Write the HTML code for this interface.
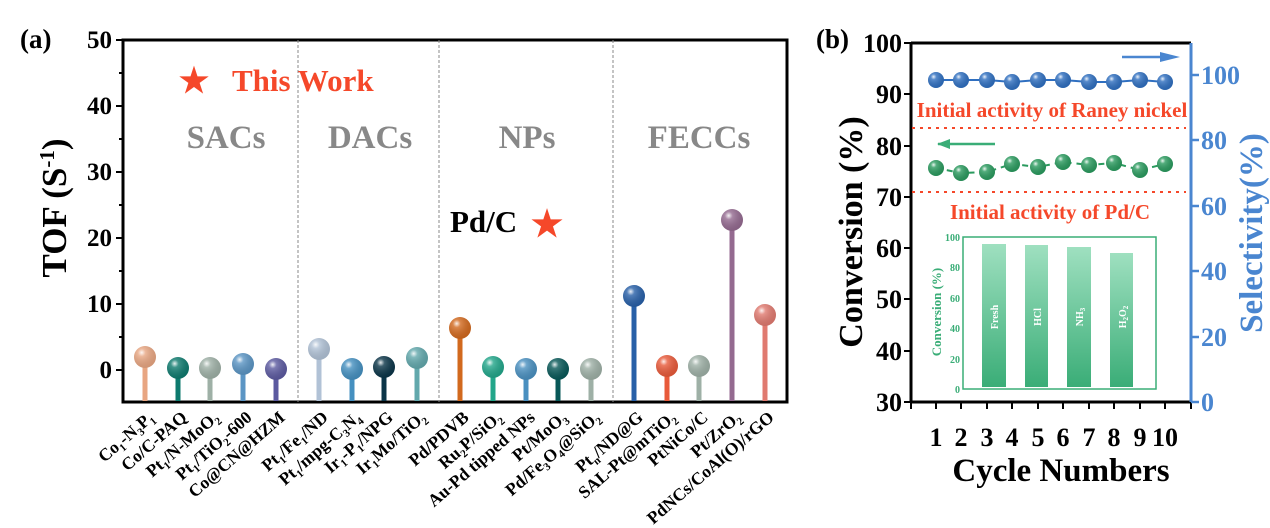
<!DOCTYPE html>
<html><head><style>body{margin:0;background:#fff}svg{display:block}text{font-family:"Liberation Serif",serif;font-weight:bold}</style></head>
<body>
<svg width="1270" height="528" viewBox="0 0 1270 528" xmlns="http://www.w3.org/2000/svg">
<defs>
<radialGradient id="sh" cx="0.35" cy="0.3" r="0.7"><stop offset="0" stop-color="#fff" stop-opacity="0.9"/><stop offset="0.25" stop-color="#fff" stop-opacity="0.2"/><stop offset="1" stop-color="#000" stop-opacity="0.1"/></radialGradient>
<linearGradient id="bar" x1="0" y1="0" x2="0" y2="1"><stop offset="0" stop-color="#9fe0c0"/><stop offset="1" stop-color="#3aad77"/></linearGradient>
</defs>
<!-- Panel a -->
<text x="20" y="48" font-size="27">(a)</text>
<rect x="123" y="40" width="664" height="362" fill="none" stroke="#000" stroke-width="3"/>
<g stroke="#888" stroke-width="1" stroke-dasharray="3,2">
<line x1="298" y1="40" x2="298" y2="402"/><line x1="439" y1="40" x2="439" y2="402"/><line x1="613" y1="40" x2="613" y2="402"/></g>
<g stroke="#000" stroke-width="2">
<line x1="116" y1="40" x2="123" y2="40"/><line x1="116" y1="106" x2="123" y2="106"/><line x1="116" y1="172" x2="123" y2="172"/><line x1="116" y1="238" x2="123" y2="238"/><line x1="116" y1="304" x2="123" y2="304"/><line x1="116" y1="370" x2="123" y2="370"/>
<line x1="119" y1="73" x2="123" y2="73"/><line x1="119" y1="139" x2="123" y2="139"/><line x1="119" y1="205" x2="123" y2="205"/><line x1="119" y1="271" x2="123" y2="271"/><line x1="119" y1="337" x2="123" y2="337"/></g>
<g font-size="25" text-anchor="end">
<text x="112" y="48">50</text><text x="112" y="114">40</text><text x="112" y="180">30</text><text x="112" y="246">20</text><text x="112" y="312">10</text><text x="112" y="378">0</text></g>
<text transform="translate(66,208) rotate(-90)" font-size="35" text-anchor="middle">TOF (S<tspan dy="-12" font-size="21">-1</tspan><tspan dy="12">)</tspan></text>
<text x="194" y="92" font-size="34" fill="#f5482a" text-anchor="middle">★</text>
<text x="232" y="91" font-size="31" fill="#f5482a">This Work</text>
<g font-size="33" fill="#888" text-anchor="middle"><text x="226" y="148">SACs</text><text x="370" y="148">DACs</text><text x="527" y="148">NPs</text><text x="699" y="148">FECCs</text></g>
<text x="450" y="232" font-size="31">Pd/C</text>
<text x="547" y="236" font-size="36" fill="#f5482a" text-anchor="middle">★</text>
<g>
<g><rect x="142.5" y="357" width="5" height="44" fill="#e8a682"/><circle cx="145" cy="357" r="11" fill="#e8a682"/></g>
<g><rect x="175.5" y="368" width="5" height="33" fill="#0e7a6e"/><circle cx="178" cy="368" r="11" fill="#0e7a6e"/></g>
<g><rect x="207.5" y="368" width="5" height="33" fill="#9eb0a6"/><circle cx="210" cy="368" r="11" fill="#9eb0a6"/></g>
<g><rect x="240.5" y="364" width="5" height="37" fill="#5b95c4"/><circle cx="243" cy="364" r="11" fill="#5b95c4"/></g>
<g><rect x="273.5" y="369" width="5" height="32" fill="#5c5aa0"/><circle cx="276" cy="369" r="11" fill="#5c5aa0"/></g>
<g><rect x="316.5" y="349" width="5" height="52" fill="#b1c2d6"/><circle cx="319" cy="349" r="11" fill="#b1c2d6"/></g>
<g><rect x="349.5" y="369" width="5" height="32" fill="#4590c0"/><circle cx="352" cy="369" r="11" fill="#4590c0"/></g>
<g><rect x="381.5" y="367" width="5" height="34" fill="#0b3548"/><circle cx="384" cy="367" r="11" fill="#0b3548"/></g>
<g><rect x="414.5" y="358" width="5" height="43" fill="#62a8ac"/><circle cx="417" cy="358" r="11" fill="#62a8ac"/></g>
<g><rect x="457.5" y="328" width="5" height="73" fill="#d2691e"/><circle cx="460" cy="328" r="11" fill="#d2691e"/></g>
<g><rect x="490.5" y="367" width="5" height="34" fill="#22a68a"/><circle cx="493" cy="367" r="11" fill="#22a68a"/></g>
<g><rect x="523.5" y="369" width="5" height="32" fill="#4a90c0"/><circle cx="526" cy="369" r="11" fill="#4a90c0"/></g>
<g><rect x="555.5" y="369" width="5" height="32" fill="#085858"/><circle cx="558" cy="369" r="11" fill="#085858"/></g>
<g><rect x="588.5" y="369" width="5" height="32" fill="#9eb0a6"/><circle cx="591" cy="369" r="11" fill="#9eb0a6"/></g>
<g><rect x="631.5" y="296" width="5" height="105" fill="#2860a8"/><circle cx="634" cy="296" r="11" fill="#2860a8"/></g>
<g><rect x="664.5" y="366" width="5" height="35" fill="#e85a3a"/><circle cx="667" cy="366" r="11" fill="#e85a3a"/></g>
<g><rect x="696.5" y="366" width="5" height="35" fill="#9eb0a6"/><circle cx="699" cy="366" r="11" fill="#9eb0a6"/></g>
<g><rect x="729.5" y="220" width="5" height="181" fill="#946a90"/><circle cx="732" cy="220" r="11" fill="#946a90"/></g>
<g><rect x="762.5" y="315" width="5" height="86" fill="#e07a70"/><circle cx="765" cy="315" r="11" fill="#e07a70"/></g>
</g>
<g fill="url(#sh)">
<circle cx="145" cy="357" r="11"/><circle cx="178" cy="368" r="11"/><circle cx="210" cy="368" r="11"/><circle cx="243" cy="364" r="11"/><circle cx="276" cy="369" r="11"/><circle cx="319" cy="349" r="11"/><circle cx="352" cy="369" r="11"/><circle cx="384" cy="367" r="11"/><circle cx="417" cy="358" r="11"/><circle cx="460" cy="328" r="11"/><circle cx="493" cy="367" r="11"/><circle cx="526" cy="369" r="11"/><circle cx="558" cy="369" r="11"/><circle cx="591" cy="369" r="11"/><circle cx="634" cy="296" r="11"/><circle cx="667" cy="366" r="11"/><circle cx="699" cy="366" r="11"/><circle cx="732" cy="220" r="11"/><circle cx="765" cy="315" r="11"/></g>
<g font-size="17.5" text-anchor="end">
<text transform="translate(155,419) rotate(-41)">Co<tspan font-size="11" dy="4">1</tspan><tspan dy="-4">-N</tspan><tspan font-size="11" dy="4">3</tspan><tspan dy="-4">P</tspan><tspan font-size="11" dy="4">1</tspan></text>
<text transform="translate(188,419) rotate(-41)">Co/C-PAQ</text>
<text transform="translate(220,419) rotate(-41)">Pt<tspan font-size="11" dy="4">1</tspan><tspan dy="-4">/N-MoO</tspan><tspan font-size="11" dy="4">2</tspan></text>
<text transform="translate(253,419) rotate(-41)">Pt<tspan font-size="11" dy="4">1</tspan><tspan dy="-4">/TiO</tspan><tspan font-size="11" dy="4">2</tspan><tspan dy="-4">-600</tspan></text>
<text transform="translate(286,419) rotate(-41)">Co@CN@HZM</text>
<text transform="translate(329,419) rotate(-41)">Pt<tspan font-size="11" dy="4">1</tspan><tspan dy="-4">/Fe</tspan><tspan font-size="11" dy="4">1</tspan><tspan dy="-4">/ND</tspan></text>
<text transform="translate(362,419) rotate(-41)">Pt<tspan font-size="11" dy="4">1</tspan><tspan dy="-4">/mpg-C</tspan><tspan font-size="11" dy="4">3</tspan><tspan dy="-4">N</tspan><tspan font-size="11" dy="4">4</tspan></text>
<text transform="translate(394,419) rotate(-41)">Ir<tspan font-size="11" dy="4">1</tspan><tspan dy="-4">-P</tspan><tspan font-size="11" dy="4">1</tspan><tspan dy="-4">/NPG</tspan></text>
<text transform="translate(427,419) rotate(-41)">Ir<tspan font-size="11" dy="4">1</tspan><tspan dy="-4">Mo/TiO</tspan><tspan font-size="11" dy="4">2</tspan></text>
<text transform="translate(470,419) rotate(-41)">Pd/PDVB</text>
<text transform="translate(503,419) rotate(-41)">Ru<tspan font-size="11" dy="4">2</tspan><tspan dy="-4">P/SiO</tspan><tspan font-size="11" dy="4">2</tspan></text>
<text transform="translate(536,419) rotate(-41)">Au-Pd tipped NPs</text>
<text transform="translate(568,419) rotate(-41)">Pt/MoO<tspan font-size="11" dy="4">3</tspan></text>
<text transform="translate(601,419) rotate(-41)">Pd/Fe<tspan font-size="11" dy="4">3</tspan><tspan dy="-4">O</tspan><tspan font-size="11" dy="4">4</tspan><tspan dy="-4">@SiO</tspan><tspan font-size="11" dy="4">2</tspan></text>
<text transform="translate(644,419) rotate(-41)">Pt<tspan font-size="11" dy="4">n</tspan><tspan dy="-4">/ND@G</tspan></text>
<text transform="translate(677,419) rotate(-41)">SAL-Pt@mTiO<tspan font-size="11" dy="4">2</tspan></text>
<text transform="translate(709,419) rotate(-41)">PtNiCo/C</text>
<text transform="translate(742,419) rotate(-41)">Pt/ZrO<tspan font-size="11" dy="4">2</tspan></text>
<text transform="translate(775,419) rotate(-41)">PdNCs/CoAl(O)/rGO</text>
</g>
<!-- Panel b -->
<text x="816" y="48" font-size="27">(b)</text>
<line x1="911" y1="43" x2="911" y2="402" stroke="#000" stroke-width="3"/>
<line x1="911" y1="43" x2="1191" y2="43" stroke="#000" stroke-width="3"/>
<line x1="911" y1="402" x2="1191" y2="402" stroke="#000" stroke-width="3"/>
<line x1="1191" y1="43" x2="1191" y2="402" stroke="#4a86d0" stroke-width="3"/>
<g stroke="#000" stroke-width="2">
<line x1="904" y1="43" x2="911" y2="43"/><line x1="904" y1="94" x2="911" y2="94"/><line x1="904" y1="146" x2="911" y2="146"/><line x1="904" y1="197" x2="911" y2="197"/><line x1="904" y1="248" x2="911" y2="248"/><line x1="904" y1="299" x2="911" y2="299"/><line x1="904" y1="351" x2="911" y2="351"/><line x1="904" y1="402" x2="911" y2="402"/>
<line x1="911" y1="402" x2="911" y2="409"/><line x1="936" y1="402" x2="936" y2="409"/><line x1="961" y1="402" x2="961" y2="409"/><line x1="987" y1="402" x2="987" y2="409"/><line x1="1012" y1="402" x2="1012" y2="409"/><line x1="1038" y1="402" x2="1038" y2="409"/><line x1="1063" y1="402" x2="1063" y2="409"/><line x1="1089" y1="402" x2="1089" y2="409"/><line x1="1114" y1="402" x2="1114" y2="409"/><line x1="1140" y1="402" x2="1140" y2="409"/><line x1="1165" y1="402" x2="1165" y2="409"/><line x1="1191" y1="402" x2="1191" y2="409"/></g>
<g font-size="26" text-anchor="end">
<text x="902" y="52">100</text><text x="902" y="103">90</text><text x="902" y="155">80</text><text x="902" y="206">70</text><text x="902" y="257">60</text><text x="902" y="308">50</text><text x="902" y="360">40</text><text x="902" y="411">30</text></g>
<g stroke="#4a86d0" stroke-width="2.5">
<line x1="1191" y1="75" x2="1199" y2="75"/><line x1="1191" y1="140" x2="1199" y2="140"/><line x1="1191" y1="206" x2="1199" y2="206"/><line x1="1191" y1="271" x2="1199" y2="271"/><line x1="1191" y1="337" x2="1199" y2="337"/><line x1="1191" y1="402" x2="1199" y2="402"/></g>
<g font-size="26" fill="#4a86d0"><text x="1201" y="84">100</text><text x="1201" y="149">80</text><text x="1201" y="215">60</text><text x="1201" y="280">40</text><text x="1201" y="346">20</text><text x="1201" y="411">0</text></g>
<text transform="translate(862,232) rotate(-90)" font-size="34" text-anchor="middle">Conversion (%)</text>
<text transform="translate(1262,233) rotate(-90)" font-size="33" fill="#4a86d0" text-anchor="middle">Selectivity(%)</text>
<g font-size="26" text-anchor="middle"><text x="936" y="446">1</text><text x="961" y="446">2</text><text x="987" y="446">3</text><text x="1012" y="446">4</text><text x="1038" y="446">5</text><text x="1063" y="446">6</text><text x="1089" y="446">7</text><text x="1114" y="446">8</text><text x="1140" y="446">9</text><text x="1165" y="446">10</text></g>
<text x="1061" y="481" font-size="33" text-anchor="middle">Cycle Numbers</text>
<text x="1052" y="117" font-size="21" fill="#f5482a" text-anchor="middle">Initial activity of Raney nickel</text>
<text x="1050" y="219" font-size="21" fill="#f5482a" text-anchor="middle">Initial activity of Pd/C</text>
<line x1="912" y1="128" x2="1186" y2="128" stroke="#f5482a" stroke-width="2" stroke-dasharray="3,5"/>
<line x1="912" y1="192" x2="1186" y2="192" stroke="#f5482a" stroke-width="2" stroke-dasharray="3,5"/>
<line x1="1122" y1="57" x2="1172" y2="57" stroke="#4a86d0" stroke-width="2.5"/><polygon points="1160,52 1180,57 1160,62" fill="#4a86d0"/>
<line x1="938" y1="144" x2="995" y2="144" stroke="#3aad77" stroke-width="2.5"/><polygon points="950,139 937,144 950,149" fill="#3aad77"/>
<polyline points="936,80 961,80 987,80 1012,82 1038,80 1063,80 1089,82 1114,82 1140,80 1165,82" fill="none" stroke="#2f6fc0" stroke-width="2"/>
<polyline points="936,168 961,173 987,172 1012,164 1038,167 1063,162 1089,165 1114,163 1140,170 1165,164" fill="none" stroke="#2a9a5e" stroke-width="2" stroke-dasharray="6,5"/>
<g fill="#2f6fc0"><circle cx="936" cy="80" r="8"/><circle cx="961" cy="80" r="8"/><circle cx="987" cy="80" r="8"/><circle cx="1012" cy="82" r="8"/><circle cx="1038" cy="80" r="8"/><circle cx="1063" cy="80" r="8"/><circle cx="1089" cy="82" r="8"/><circle cx="1114" cy="82" r="8"/><circle cx="1140" cy="80" r="8"/><circle cx="1165" cy="82" r="8"/></g>
<g fill="#2a9a5e"><circle cx="936" cy="168" r="8"/><circle cx="961" cy="173" r="8"/><circle cx="987" cy="172" r="8"/><circle cx="1012" cy="164" r="8"/><circle cx="1038" cy="167" r="8"/><circle cx="1063" cy="162" r="8"/><circle cx="1089" cy="165" r="8"/><circle cx="1114" cy="163" r="8"/><circle cx="1140" cy="170" r="8"/><circle cx="1165" cy="164" r="8"/></g>
<g fill="url(#sh)"><circle cx="936" cy="80" r="8"/><circle cx="961" cy="80" r="8"/><circle cx="987" cy="80" r="8"/><circle cx="1012" cy="82" r="8"/><circle cx="1038" cy="80" r="8"/><circle cx="1063" cy="80" r="8"/><circle cx="1089" cy="82" r="8"/><circle cx="1114" cy="82" r="8"/><circle cx="1140" cy="80" r="8"/><circle cx="1165" cy="82" r="8"/>
<circle cx="936" cy="168" r="8"/><circle cx="961" cy="173" r="8"/><circle cx="987" cy="172" r="8"/><circle cx="1012" cy="164" r="8"/><circle cx="1038" cy="167" r="8"/><circle cx="1063" cy="162" r="8"/><circle cx="1089" cy="165" r="8"/><circle cx="1114" cy="163" r="8"/><circle cx="1140" cy="170" r="8"/><circle cx="1165" cy="164" r="8"/></g>
<!-- inset -->
<rect x="963" y="237" width="193" height="152" fill="none" stroke="#3aad77" stroke-width="1.5"/>
<g fill="url(#bar)"><rect x="982" y="244" width="24" height="143"/><rect x="1025" y="245" width="23" height="142"/><rect x="1067" y="247" width="24" height="140"/><rect x="1110" y="253" width="23" height="134"/></g>
<g font-size="10" fill="#3aad77" text-anchor="end"><text x="960" y="241">100</text><text x="960" y="271">80</text><text x="960" y="302">60</text><text x="960" y="332">40</text><text x="960" y="363">20</text><text x="960" y="393">0</text></g>
<text transform="translate(941,312) rotate(-90)" font-size="13" fill="#3aad77" text-anchor="middle">Conversion (%)</text>
<g font-size="10" fill="#fff" text-anchor="middle"><text transform="translate(998,317) rotate(-90)">Fresh</text><text transform="translate(1041,317) rotate(-90)">HCl</text><text transform="translate(1083,317) rotate(-90)">NH<tspan font-size="7" dy="2">3</tspan></text><text transform="translate(1126,317) rotate(-90)">H<tspan font-size="7" dy="2">2</tspan><tspan dy="-2">O</tspan><tspan font-size="7" dy="2">2</tspan></text></g>
</svg>
</body></html>
